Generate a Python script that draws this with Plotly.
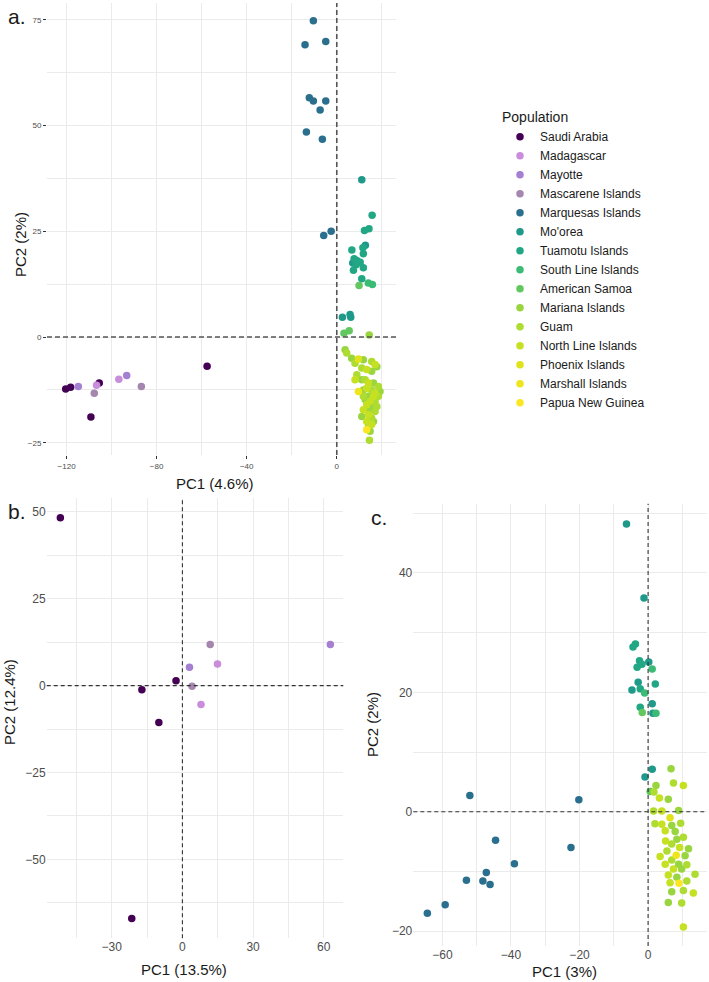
import plotly.graph_objects as go

POPULATIONS = ["Saudi Arabia", "Madagascar", "Mayotte", "Mascarene Islands",
               "Marquesas Islands", "Mo'orea", "Tuamotu Islands", "South Line Islands",
               "American Samoa", "Mariana Islands", "Guam", "North Line Islands",
               "Phoenix Islands", "Marshall Islands", "Papua New Guinea"]
COLORS = ["#440154", "#c98ddb", "#a57fd1", "#a586ae", "#2b6f8e", "#1f998a",
          "#22a785", "#3bbb75", "#63c75f", "#99d53f", "#aedc30", "#c6e022",
          "#e0e31a", "#efe51c", "#fde725"]

# ---------- panel a (all populations): PC1 4.6 %, PC2 2 % ----------
a_pc1 = [-120.4, -118.2, -105.5, -109.2, -57.6,
         -96.8, -106.7,
         -93.3, -114.8,
         -107.7, -86.8,
         -10.4, -14.1, -4.9, -12.2, -10.4, -4.9, -7.4, -13.5, -6.4, -5.8, -2.5,
         2.5, 5.9, 6.2, 11.1, 7.1, 12.7,
         15.7, 12.3, 14.3, 6.7, 11.6, 11.8, 7.7, 8.9, 10.4, 8.6, 11.8, 7.4, 11.1,
         14.0, 15.8,
         9.9, 3.2, 5.5,
         14.4, 3.7, 6.6, 11.8, 17.8, 15.5, 11.1, 16.3, 11.8, 19.2, 14.1, 12.6, 15.5, 14.8, 11.1, 16.3, 14.8,
         4.4, 8.1, 15.5, 11.1, 8.9, 12.6, 18.5, 15.5, 11.8, 18.5, 17.0, 17.8, 17.0, 15.5, 14.1, 14.5,
         17.0, 13.3, 8.1, 14.1, 13.3, 17.0, 16.3, 14.8, 13.3, 11.8, 14.1, 13.3, 15.5,
         9.6,
         9.6,
         13.3]
a_pc2 = [-12.3, -11.9, -10.9, -18.9, -6.9,
         -10.0, -11.4,
         -9.1, -11.7,
         -13.3, -11.7,
         74.8, 69.1, 69.9, 56.6, 55.8, 55.8, 53.7, 48.5, 46.8, 24.0, 25.0,
         4.7, 5.3, 4.7, 37.2, 17.5, 21.7,
         28.8, 25.2, 25.6, 20.6, 21.1, 19.7, 18.5, 18.1, 17.7, 17.1, 16.4, 15.8, 13.8,
         12.8, 12.4,
         12.2, 0.9, 1.5,
         0.5, -3.0, -5.0, -5.4, -7.0, -8.1, -10.1, -10.9, -12.5, -12.9, -14.0, -14.8, -16.4, -17.2, -18.8, -20.0, -22.3,
         -3.8, -6.2, -5.8, -7.3, -8.9, -10.1, -11.7, -12.5, -14.0, -14.0, -15.2, -16.4, -17.6, -19.2, -21.1, -24.4,
         -6.5, -7.7, -10.1, -10.9, -12.1, -13.3, -14.0, -15.2, -16.0, -17.2, -18.4, -20.0, -20.7,
         -5.2,
         -12.9,
         -21.9]
a_pop = ([0] * 5 + [1] * 2 + [2] * 2 + [3] * 2 + [4] * 11 + [5] * 6 + [6] * 13 + [7] * 2
         + [8] * 3 + [9] * 17 + [10] * 16 + [11] * 13 + [12] + [13] + [14])

# ---------- panel b (western Indian Ocean + Red Sea): PC1 13.5 %, PC2 12.4 % ----------
b_pc1 = [-51.8, -2.7, -17.2, -10.0, -21.5, 14.9, 7.9, 62.8, 3.0, 11.8, 4.1]
b_pc2 = [48.3, 1.4, -1.2, -10.6, -67.0, 6.2, -5.4, 11.8, 5.3, 11.8, -0.2]
b_pop = [0, 0, 0, 0, 0, 1, 1, 2, 2, 3, 3]

# ---------- panel c (Pacific): PC1 3 %, PC2 2 % ----------
c_pc1 = [-52.0, -20.2, -44.5, -22.5, -39.0, -47.2, -53.0, -48.2, -46.1, -59.2, -64.4,
         -6.3, -1.2, 0.2, -4.7, 1.2, 1.4, -0.9, 1.2, -2.9,
         -3.7, -4.4, -2.5, -1.8, -3.2, -2.3, 2.1, -2.3,
         1.2, -1.0, 2.3,
         -1.7, 0.6,
         6.7, 2.3, 5.9, 8.9, 6.9, 7.9, 8.4, 11.8, 10.8, 8.9, 9.8, 8.4, 6.9, 5.9,
         7.4, 1.7, 1.6, 2.0, 9.5, 10.3, 6.9, 5.5, 6.9, 11.3, 13.7, 11.3, 10.3, 9.8,
         10.3, 3.3, 4.0, 4.0, 5.0, 5.1, 9.2, 3.5, 5.0, 7.4, 5.9, 6.4, 13.2, 10.3,
         6.4,
         8.2,
         9.0]
c_pc2 = [2.7, 2.0, -4.8, -6.0, -8.7, -10.2, -11.5, -11.6, -12.2, -15.6, -17.0,
         48.2, 35.8, 25.1, 20.4, 18.1, 16.5, 5.8, 7.1, 21.7,
         28.1, 27.6, 25.3, 24.7, 24.2, 20.6, 21.4, 17.5,
         23.9, 19.9, 16.5,
         16.6, 3.4,
         7.2, 4.4, 2.1, 0.2, -2.3, -3.3, -4.6, -6.2, -7.4, -8.8, -9.6, -11.0, -13.4, -15.2,
         4.8, 3.3, 0.1, -2.0, -1.95, -4.3, -5.4, -6.6, -8.1, -8.9, -10.5, -11.6, -13.2, -15.3,
         4.4, 2.3, 0.1, -2.1, -3.2, -4.9, -6.0, -7.5, -8.8, -9.6, -10.6, -11.9, -13.6, -19.3,
         -1.0,
         -7.3,
         -12.0]
c_pop = ([4] * 11 + [5] * 9 + [6] * 8 + [7] * 3 + [8] * 2 + [9] * 14 + [10] * 14
         + [11] * 14 + [12] + [13] + [14])

FONT = "Liberation Sans, Arial, Helvetica, sans-serif"
GRID = "#ebebeb"

fig = go.Figure()


def add_panel(xs, ys, pops, xa, ya, legend):
    for k, name in enumerate(POPULATIONS):
        px = [x for x, p in zip(xs, pops) if p == k]
        py = [y for y, p in zip(ys, pops) if p == k]
        if not px:
            continue
        fig.add_trace(go.Scatter(
            x=px, y=py, mode="markers", name=name, legendgroup=name,
            showlegend=legend, xaxis=xa, yaxis=ya,
            marker=dict(color=COLORS[k], size=7.5, line=dict(width=0)),
            hoverinfo="skip"))


add_panel(a_pc1, a_pc2, a_pop, "x", "y", True)
add_panel(b_pc1, b_pc2, b_pop, "x2", "y2", False)
add_panel(c_pc1, c_pc2, c_pop, "x3", "y3", False)

W, H = 709, 982


def xd(a, b):
    return [a / W, b / W]


def yd(top, bottom):
    return [1 - bottom / H, 1 - top / H]


def axis(domain, rng, dtick, minor, anchor, tickfont, ticks):
    return dict(domain=domain, range=rng, dtick=dtick, tick0=0, anchor=anchor,
                showgrid=True, gridcolor=GRID, gridwidth=1.1, zeroline=False,
                showline=False, ticks=ticks, ticklen=3, tickcolor="#333333",
                tickwidth=1, tickfont=tickfont,
                minor=dict(showgrid=True, dtick=minor, tick0=0, gridcolor=GRID,
                           gridwidth=0.5, ticks=""))


small = dict(family=FONT, size=8, color="#4d4d4d")
big = dict(family=FONT, size=12, color="#4d4d4d")

fig.update_layout(
    width=W, height=H, margin=dict(l=0, r=0, t=0, b=0),
    plot_bgcolor="white", paper_bgcolor="white",
    font=dict(family=FONT, color="#1a1a1a"),
    xaxis=axis(xd(47, 396), [-128.7, 26.3], 40, 20, "y", small, "outside"),
    yaxis=axis(yd(3, 455), [-27.9, 79.0], 25, 12.5, "x", small, "outside"),
    xaxis2=axis(xd(46.7, 343.3), [-57.6, 68.3], 30, 15, "y2", big, ""),
    yaxis2=axis(yd(498.3, 938.3), [-72.7, 53.9], 25, 12.5, "x2", big, ""),
    xaxis3=axis(xd(413.3, 706.7), [-68.5, 17.1], 20, 10, "y3", big, ""),
    yaxis3=axis(yd(503.7, 946), [-22.5, 51.6], 20, 10, "x3", big, ""),
    legend=dict(x=500 / W, y=1 - 104 / H, xanchor="left", yanchor="top",
                title=dict(text="Population", font=dict(family=FONT, size=14, color="#1a1a1a")),
                font=dict(family=FONT, size=12, color="#1a1a1a"),
                bgcolor="rgba(0,0,0,0)", borderwidth=0, tracegroupgap=0),
)

# dashed reference lines at PC1 = 0 and PC2 = 0
for xa, ya, col, w, dash in [("x", "y", "#555555", 1.6, "5px,3px"),
                             ("x2", "y2", "#333333", 1.1, "4px,3px"),
                             ("x3", "y3", "#333333", 1.1, "4px,3px")]:
    fig.add_shape(type="line", xref=xa, yref=ya + " domain", x0=0, x1=0, y0=0, y1=1,
                  line=dict(color=col, width=w, dash=dash))
    fig.add_shape(type="line", xref=xa + " domain", yref=ya, x0=0, x1=1, y0=0, y1=0,
                  line=dict(color=col, width=w, dash=dash))


def label(text, x, y, size, angle=0, color="#1a1a1a"):
    fig.add_annotation(text=text, x=x / W, y=1 - y / H, xref="paper", yref="paper",
                       showarrow=False, textangle=angle,
                       font=dict(family=FONT, size=size, color=color),
                       xanchor="center", yanchor="middle")


label("a.", 17, 17, 21)
label("b.", 17, 512, 21)
label("c.", 379, 517, 21)
label("PC1 (4.6%)", 215, 483, 15)
label("PC2 (2%)", 20, 245, 15, -90)
label("PC1 (13.5%)", 184, 969, 15)
label("PC2 (12.4%)", 9, 702, 15, -90)
label("PC1 (3%)", 564, 971, 15)
label("PC2 (2%)", 372, 725, 15, -90)

fig.write_html("out.html")
